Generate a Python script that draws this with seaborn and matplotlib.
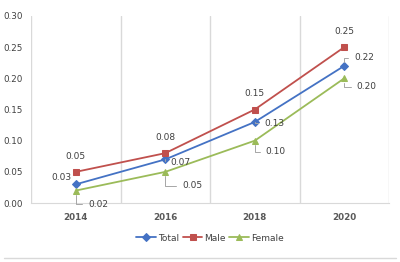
import numpy as np
import pandas as pd
import matplotlib
matplotlib.use('Agg')
import matplotlib.pyplot as plt
import seaborn as sns

years = ['2014', '2016', '2018', '2020']
total = [0.03, 0.07, 0.13, 0.22]
male = [0.05, 0.08, 0.15, 0.25]
female = [0.02, 0.05, 0.10, 0.20]

df = pd.DataFrame({
    'year': years * 3,
    'value': total + male + female,
    'group': ['Total'] * 4 + ['Male'] * 4 + ['Female'] * 4,
})

palette = {'Total': '#4472C4', 'Male': '#C0504D', 'Female': '#9BBB59'}
markers = {'Total': 'D', 'Male': 's', 'Female': '^'}

sns.set_style('white')
plt.rcParams['font.family'] = ['DejaVu Sans']

fig = plt.figure(figsize=(4.0, 2.62), dpi=100)
ax = fig.add_axes([0.0775, 0.225, 0.895, 0.714])

sns.lineplot(data=df, x='year', y='value', hue='group', style='group',
             palette=palette, markers=markers, dashes=False, markersize=4.5,
             linewidth=1.3, markeredgecolor=None, ax=ax)

ax.set_xlim(-0.5, 3.5)
ax.set_ylim(0, 0.30)
ax.set_yticks(np.arange(0, 0.31, 0.05))
ax.set_yticklabels([f'{v:.2f}' for v in np.arange(0, 0.31, 0.05)])
ax.set_xticks(range(4))
ax.set_xticklabels(years)
ax.set_xticks(np.arange(-0.5, 3.6, 1), minor=True)
ax.grid(which='minor', axis='x', color='#D9D9D9', linewidth=1)
ax.grid(which='major', visible=False)
ax.tick_params(axis='both', which='both', length=0, labelsize=6.3, colors='#404040')
ax.tick_params(axis='x', pad=7)
ax.tick_params(axis='y', pad=6)
for lab in ax.get_xticklabels():
    lab.set_fontweight('bold')
    lab.set_color('#595959')
for s in ['top', 'right', 'left']:
    ax.spines[s].set_visible(False)
ax.spines['bottom'].set_color('#D9D9D9')
ax.set_xlabel('')
ax.set_ylabel('')

lead = dict(arrowstyle='-', color='#A6A6A6', lw=0.7, shrinkB=3,
            connectionstyle='angle,angleA=0,angleB=90,rad=0')
fs = 6.5
tc = '#404040'

# Male labels above
for i, v in enumerate(male):
    ax.annotate(f'{v:.2f}', (i, v), xytext=(0, 8), textcoords='offset points',
                ha='center', va='bottom', fontsize=fs, color=tc)

# Total labels
ax.annotate(f'{total[0]:.2f}', (0, total[0]), xytext=(-3, 2), textcoords='offset points',
            ha='right', va='bottom', fontsize=fs, color=tc)
ax.annotate(f'{total[1]:.2f}', (1, total[1]), xytext=(4, -2), textcoords='offset points',
            ha='left', va='center', fontsize=fs, color=tc, arrowprops=lead)
ax.annotate(f'{total[2]:.2f}', (2, total[2]), xytext=(7, -1), textcoords='offset points',
            ha='left', va='center', fontsize=fs, color=tc, arrowprops=lead)
ax.annotate(f'{total[3]:.2f}', (3, total[3]), xytext=(7, 6), textcoords='offset points',
            ha='left', va='center', fontsize=fs, color=tc, arrowprops=lead)

# Female labels below-right
offsets = [(9, -10), (12, -10), (8, -8), (9, -6)]
for i, v in enumerate(female):
    ax.annotate(f'{v:.2f}', (i, v), xytext=offsets[i], textcoords='offset points',
                ha='left', va='center', fontsize=fs, color=tc, arrowprops=lead)

handles, labels = ax.get_legend_handles_labels()
ax.legend(handles, labels, loc='center', bbox_to_anchor=(0.5, -0.187),
          ncol=3, frameon=False, fontsize=6.5, handlelength=2.2,
          columnspacing=0.4, handletextpad=0.2, labelcolor='#404040')

fig.add_artist(plt.Line2D([0.01, 0.99], [0.015, 0.015], color='#D9D9D9', lw=1))

fig.savefig('out.png', dpi=100)
